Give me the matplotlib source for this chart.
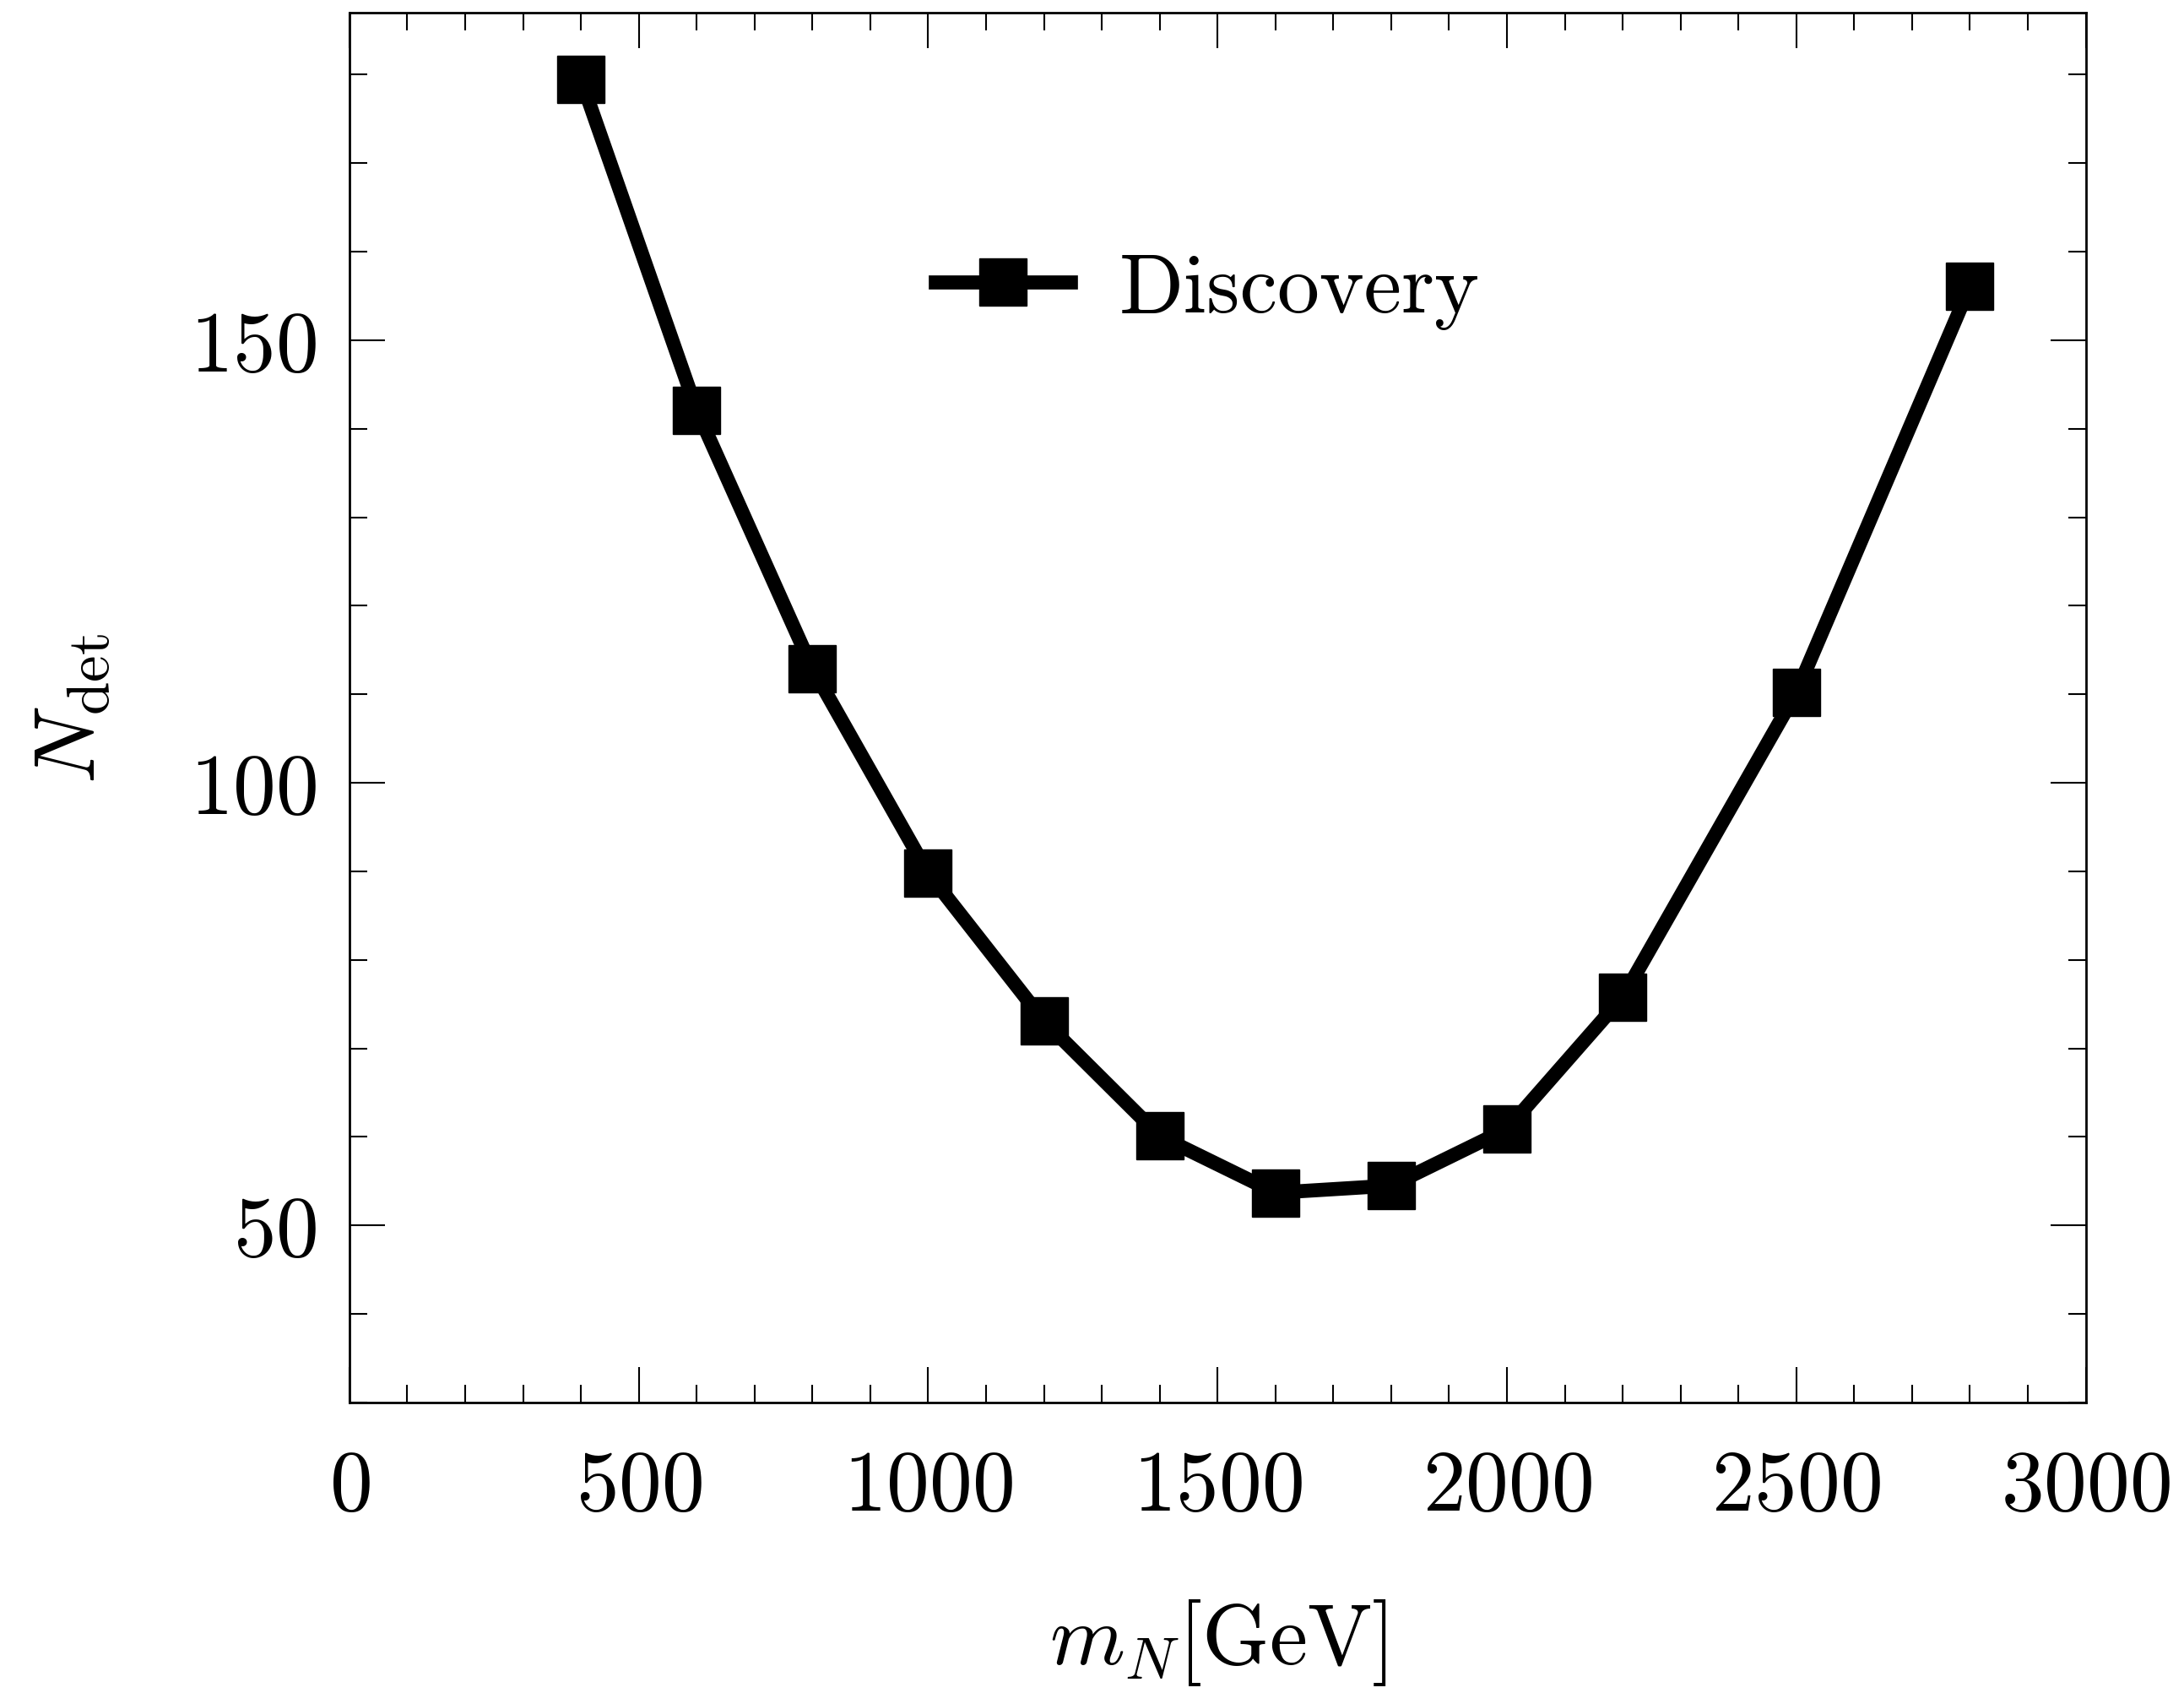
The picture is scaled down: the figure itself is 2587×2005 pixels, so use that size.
import matplotlib
matplotlib.use("Agg")
import matplotlib.pyplot as plt
from matplotlib.ticker import MultipleLocator

plt.rcParams["font.family"] = "serif"
plt.rcParams["font.serif"] = ["cmr10"]
plt.rcParams["mathtext.fontset"] = "cm"
plt.rcParams["axes.formatter.use_mathtext"] = True

m_N = [400, 600, 800, 1000, 1200, 1400, 1600, 1800, 2000, 2200, 2500, 2800]
N_det = [179.5, 142.1, 112.9, 89.8, 73.1, 60.1, 53.7, 54.5, 60.9, 75.8, 110.2, 156.1]

fig = plt.figure(figsize=(25.87, 20.06), dpi=100)
ax = fig.add_axes([0.160, 0.1715, 0.795, 0.8205])

ax.plot(m_N, N_det, "k-", marker="s", lw=12, ms=40, label="Discovery")

ax.set_xlim(0, 3000)
ax.set_ylim(30, 187)
ax.xaxis.set_major_locator(MultipleLocator(500))
ax.xaxis.set_minor_locator(MultipleLocator(100))
ax.yaxis.set_major_locator(MultipleLocator(50))
ax.yaxis.set_minor_locator(MultipleLocator(10))
ax.tick_params(which="both", direction="in", top=True, right=True, width=1.5)
ax.tick_params(which="major", length=30, labelsize=73)
ax.tick_params(axis="x", which="major", pad=40)
ax.tick_params(axis="y", which="major", pad=28)
ax.tick_params(which="minor", length=15)
for s in ax.spines.values():
    s.set_linewidth(2)

ax.set_xlabel(r"$m_N[\mathrm{GeV}]$", fontsize=73, labelpad=60)
ax.set_ylabel(r"$N_{\mathrm{det}}$", fontsize=73, labelpad=66)

ax.legend(loc="center", bbox_to_anchor=(0.494, 0.80), frameon=False,
          fontsize=72, handlelength=1.6, handletextpad=0.58)

fig.savefig("out.png", dpi=100)
